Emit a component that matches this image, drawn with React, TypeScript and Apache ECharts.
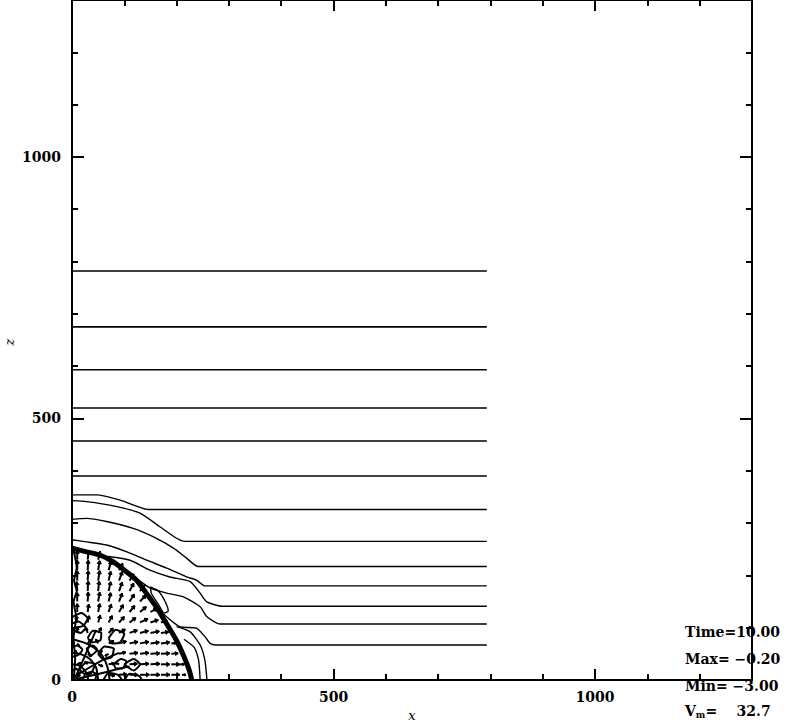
import React, { useEffect, useRef } from "react";
import * as echarts from "echarts";

// ---- axis / tick data ----
const axisMax = 1300;
const majorStep = 500;
const minorStep = 100;
const xTickLabels = [0, 500, 1000];
const yTickLabels = [0, 500, 1000];
const yAxisTitle = "z";

// ---- annotation texts ----
const timeText = "10.00";
const maxText = "\u22120.20";
const minText = "\u22123.00";
const vmText = "32.7";

// ---- unperturbed (flat) density contours, z levels ----
const contourEnd = 793;
const flatLevels = [782, 675, 593, 520, 457, 390];

// ---- contours bent by the expanding shell, [x, z] ----
const contourA = [[0, 354], [47, 354], [92, 344], [146, 326], [793, 326]];
const contourB = [[0, 343], [28, 341], [79, 333], [130, 319], [168, 293], [200, 271], [216, 265], [793, 265]];
const contourC = [[0, 307], [28, 309], [66, 303], [117, 290], [155, 274], [194, 252], [219, 233], [241, 217], [793, 217]];
const contourD = [[0, 268], [28, 264], [66, 258], [105, 245], [143, 229], [181, 214], [219, 197], [238, 191], [254, 180], [793, 180]];
const contourE = [[69, 236], [111, 229], [149, 210], [187, 197], [226, 188], [245, 166], [257, 150], [286, 141], [793, 141]];
const contourF = [[118, 198], [149, 176], [181, 166], [213, 159], [245, 140], [258, 121], [283, 107], [793, 107]];
const contourG = [[166, 134], [206, 102], [238, 99], [254, 83], [264, 70], [275, 67], [793, 67]];
const arcH1 = [[200, 102], [226, 92], [245, 67], [254, 38], [258, 0]];
const arcH2 = [[214, 78], [234, 62], [242, 38], [245, 0]];
const loopL1 = [[150, 178], [165, 170], [178, 150], [184, 132], [176, 128], [165, 145], [152, 165], [150, 178]];
const bentContours = [contourA, contourB, contourC, contourD, contourE, contourF, contourG, arcH1, arcH2, loopL1];

// ---- shock front (thick line), [x, z] ----
const shockFront = [[0, 252], [28, 245], [53, 239], [79, 226], [104, 207], [123, 191], [142, 166], [161, 140], [180, 109], [199, 77], [214, 45], [224, 19], [229, 0]];

// ---- tangled contours near the origin, [x, z] ----
const tangle1 = [[0, 78], [22, 72], [42, 62], [58, 46], [68, 24], [72, 0]];
const tangle2 = [[0, 52], [18, 49], [34, 40], [46, 24], [50, 0]];
const tangle3 = [[0, 30], [13, 28], [23, 20], [29, 10], [31, 0]];
const tangle4 = [[4, 6], [30, 22], [62, 40], [90, 52]];
const tangle5 = [[6, 4], [22, 40], [36, 72], [46, 96]];
const tangle6 = [[8, 2], [44, 10], [84, 20], [110, 26]];
const tangle7 = [[0, 96], [16, 90], [26, 100], [12, 112], [0, 108]];
const tangle8 = [[60, 0], [70, 14], [88, 10], [96, 0]];
const tangle9 = [[100, 30], [118, 40], [130, 30], [118, 18], [100, 30]];
const tangle10 = [[3, 0], [6, 40], [3, 80], [8, 120], [3, 150], [9, 170], [4, 190], [9, 215], [3, 248]];
const tangle11 = [[0, 62], [10, 66], [20, 58], [12, 48], [0, 44]];
const tangle12 = [[20, 0], [26, 12], [40, 16], [46, 6], [44, 0]];
const tangle13 = [[14, 20], [28, 34], [44, 30], [38, 16], [24, 12], [14, 20]];
const tangle14 = [[50, 50], [62, 64], [80, 60], [76, 44], [60, 40], [50, 50]];
const tangle15 = [[0, 120], [18, 128], [30, 118], [22, 104], [6, 100]];
const tangle16 = [[70, 80], [84, 96], [100, 88], [92, 72], [76, 70], [70, 80]];
const tangle17 = [[30, 80], [40, 94], [56, 90], [54, 76], [40, 72], [30, 80]];
const tangle18 = [[100, 0], [110, 12], [128, 8], [134, 0]];
const tangle19 = [[0, 16], [8, 22], [14, 12], [8, 4], [0, 6]];
const tangle20 = [[36, 46], [48, 58], [40, 66], [28, 60], [36, 46]];
const tangle21 = [[80, 30], [94, 40], [104, 36], [96, 22], [84, 22], [80, 30]];
const coreTangles = [tangle1, tangle2, tangle3, tangle4, tangle5, tangle6, tangle7, tangle8, tangle9, tangle10, tangle11, tangle12, tangle13, tangle14, tangle15, tangle16, tangle17, tangle18, tangle19, tangle20, tangle21];

// ---- velocity vectors inside the shell: [x, z, u, w] (data units) ----
const vectors = [
  [10, 230, 0, 18], [30, 230, 2, 18], [50, 230, 4, 16],
  [10, 210, 0, 19], [30, 210, 1, 19], [50, 210, 3, 18], [70, 210, 5, 17], [90, 210, 7, 13],
  [10, 190, 0, 19], [30, 190, 1, 19], [50, 190, 3, 19], [70, 190, 4, 18], [90, 190, 6, 17], [110, 190, 8, 13],
  [10, 170, -1, 18], [30, 170, 1, 19], [50, 170, 2, 19], [70, 170, 4, 18], [90, 170, 6, 17], [110, 170, 8, 15], [130, 170, 9, 11],
  [10, 150, 0, 17], [30, 150, 1, 18], [50, 150, 3, 18], [70, 150, 4, 17], [90, 150, 6, 16], [110, 150, 9, 14], [130, 150, 11, 12],
  [10, 130, 0, 16], [30, 130, 2, 15], [50, 130, 3, 16], [70, 130, 5, 15], [90, 130, 8, 14], [110, 130, 10, 12], [130, 130, 12, 10], [150, 130, 12, 7],
  [10, 110, -2, 13], [30, 110, 3, 13], [50, 110, 4, 14], [70, 110, 7, 13], [90, 110, 10, 11], [110, 110, 12, 9], [130, 110, 15, 7], [150, 110, 15, 5], [170, 110, 12, 4],
  [10, 90, 1, 11], [30, 90, -3, 10], [50, 90, 6, 10], [70, 90, 9, 9], [90, 90, 12, 7], [110, 90, 15, 5], [130, 90, 16, 4], [150, 90, 17, 3], [170, 90, 15, 2],
  [10, 70, 4, -6], [30, 70, 6, 7], [50, 70, -5, 8], [70, 70, 10, 5], [90, 70, 14, 4], [110, 70, 16, 3], [130, 70, 17, 3], [150, 70, 17, 2], [170, 70, 17, 2], [190, 70, 10, 1],
  [10, 50, -4, 7], [30, 50, 7, -5], [50, 50, 8, 6], [70, 50, -7, -4], [90, 50, 13, 3], [110, 50, 16, 2], [130, 50, 17, 2], [150, 50, 18, 1], [170, 50, 17, 1], [190, 50, 13, 1],
  [10, 30, 7, 3], [30, 30, -6, 5], [50, 30, 9, -4], [70, 30, 11, 2], [90, 30, -8, 3], [110, 30, 15, 1], [130, 30, 17, 1], [150, 30, 18, 1], [170, 30, 17, 0], [190, 30, 16, 0], [206, 30, 9, 0],
  [10, 10, 6, -2], [30, 10, 8, 4], [50, 10, -7, 3], [70, 10, 12, -2], [90, 10, 15, 1], [110, 10, 16, 0], [130, 10, 18, 0], [150, 10, 18, 0], [170, 10, 17, 0], [190, 10, 16, 0], [210, 10, 8, 0],
];

const FONT = "DejaVu Serif";

function lineSeries(points: number[][], width: number) {
  return {
    type: "line",
    data: points,
    xAxisIndex: 0,
    yAxisIndex: 0,
    showSymbol: false,
    symbol: "none",
    silent: true,
    smooth: 0.2,
    lineStyle: { color: "#000", width },
    z: 3,
  };
}

function makeXAxis(position: string, major: boolean, withLabels: boolean) {
  return {
    type: "value",
    position,
    min: 0,
    max: axisMax,
    interval: major ? majorStep : minorStep,
    axisLine: { show: major, onZero: false, lineStyle: { color: "#000", width: 2 } },
    axisTick: { show: true, inside: true, length: major ? 11 : 6, lineStyle: { color: "#000", width: 2 } },
    axisLabel: withLabels
      ? {
          show: true,
          margin: 10,
          color: "#000",
          fontFamily: FONT,
          fontWeight: "bold",
          fontSize: 14,
          formatter: (v: number) => (xTickLabels.includes(v) ? String(v) : ""),
        }
      : { show: false },
    splitLine: { show: false },
    name: withLabels ? "x" : "",
    nameLocation: "middle",
    nameGap: 29,
    nameTextStyle: { color: "#000", fontFamily: FONT, fontStyle: "italic", fontSize: 13 },
  };
}

function makeYAxis(position: string, major: boolean, withLabels: boolean) {
  return {
    type: "value",
    position,
    min: 0,
    max: axisMax,
    interval: major ? majorStep : minorStep,
    axisLine: { show: major, onZero: false, lineStyle: { color: "#000", width: 2 } },
    axisTick: { show: true, inside: true, length: major ? 12 : 6, lineStyle: { color: "#000", width: 2 } },
    axisLabel: withLabels
      ? {
          show: true,
          margin: 11,
          color: "#000",
          fontFamily: FONT,
          fontWeight: "bold",
          fontSize: 14,
          formatter: (v: number) => (yTickLabels.includes(v) ? String(v) : ""),
        }
      : { show: false },
    splitLine: { show: false },
  };
}

export default function App() {
  const ref = useRef<HTMLDivElement>(null);

  useEffect(() => {
    if (!ref.current) return;
    const chart = echarts.init(ref.current, undefined, { renderer: "svg" });

    const series: any[] = [];
    flatLevels.forEach((lv) => series.push(lineSeries([[0, lv], [contourEnd, lv]], 1.6)));
    bentContours.forEach((c) => series.push(lineSeries(c, 1.4)));
    coreTangles.forEach((c) => series.push(lineSeries(c, 2)));
    series.push(lineSeries(shockFront, 5));

    series.push({
      type: "custom",
      xAxisIndex: 0,
      yAxisIndex: 0,
      silent: true,
      clip: true,
      data: vectors,
      z: 4,
      renderItem: (_params: any, api: any) => {
        const x = api.value(0);
        const zz = api.value(1);
        const u = api.value(2);
        const w = api.value(3);
        const p0 = api.coord([x, zz]);
        const p1 = api.coord([x + u, zz + w]);
        const dx = p1[0] - p0[0];
        const dy = p1[1] - p0[1];
        const len = Math.hypot(dx, dy) || 1;
        const ux = dx / len;
        const uy = dy / len;
        const h = Math.min(3, len * 0.4);
        const a = [p1[0] - ux * h - uy * h * 0.7, p1[1] - uy * h + ux * h * 0.7];
        const b = [p1[0] - ux * h + uy * h * 0.7, p1[1] - uy * h - ux * h * 0.7];
        return {
          type: "group",
          children: [
            { type: "line", shape: { x1: p0[0], y1: p0[1], x2: p1[0], y2: p1[1] }, style: { stroke: "#000", lineWidth: 2 } },
            { type: "polygon", shape: { points: [a, p1, b] }, style: { stroke: "#000", fill: "#000", lineWidth: 1 } },
          ],
        };
      },
    });

    const annStyle = { fill: "#000", fontFamily: FONT, fontWeight: "bold", fontSize: 14 };

    chart.setOption({
      animation: false,
      backgroundColor: "#fff",
      grid: { left: 72, top: 0, width: 680, height: 680, containLabel: false, outerBoundsMode: "none" },
      xAxis: [
        makeXAxis("bottom", true, true),
        makeXAxis("bottom", false, false),
        makeXAxis("top", true, false),
        makeXAxis("top", false, false),
      ],
      yAxis: [
        makeYAxis("left", true, true),
        makeYAxis("left", false, false),
        makeYAxis("right", true, false),
        makeYAxis("right", false, false),
      ],
      series,
      graphic: [
        {
          type: "text",
          x: 9,
          y: 342,
          rotation: Math.PI / 2,
          z: 10,
          style: { text: yAxisTitle, fill: "#000", fontFamily: FONT, fontStyle: "italic", fontSize: 13, align: "center", verticalAlign: "middle" },
        },
        { type: "text", left: 685, top: 625, z: 10, style: { ...annStyle, text: "Time=" + timeText } },
        { type: "text", left: 685, top: 652, z: 10, style: { ...annStyle, text: "Max= " + maxText } },
        { type: "text", left: 685, top: 679, z: 10, style: { ...annStyle, text: "Min= " + minText } },
        {
          type: "text",
          left: 685,
          top: 704,
          z: 10,
          style: {
            ...annStyle,
            text: "{v|V}{s|m}{v|=    " + vmText + "}",
            rich: {
              v: { fontFamily: FONT, fontWeight: "bold", fontSize: 14, fill: "#000" },
              s: { fontFamily: FONT, fontWeight: "bold", fontSize: 9, fill: "#000", padding: [8, 0, 0, 0] },
            },
          },
        },
      ],
    });

    return () => chart.dispose();
  }, []);

  return (
    <div
      ref={ref}
      style={{ position: "fixed", left: 0, top: 0, width: 789, height: 723, background: "#fff" }}
    />
  );
}
